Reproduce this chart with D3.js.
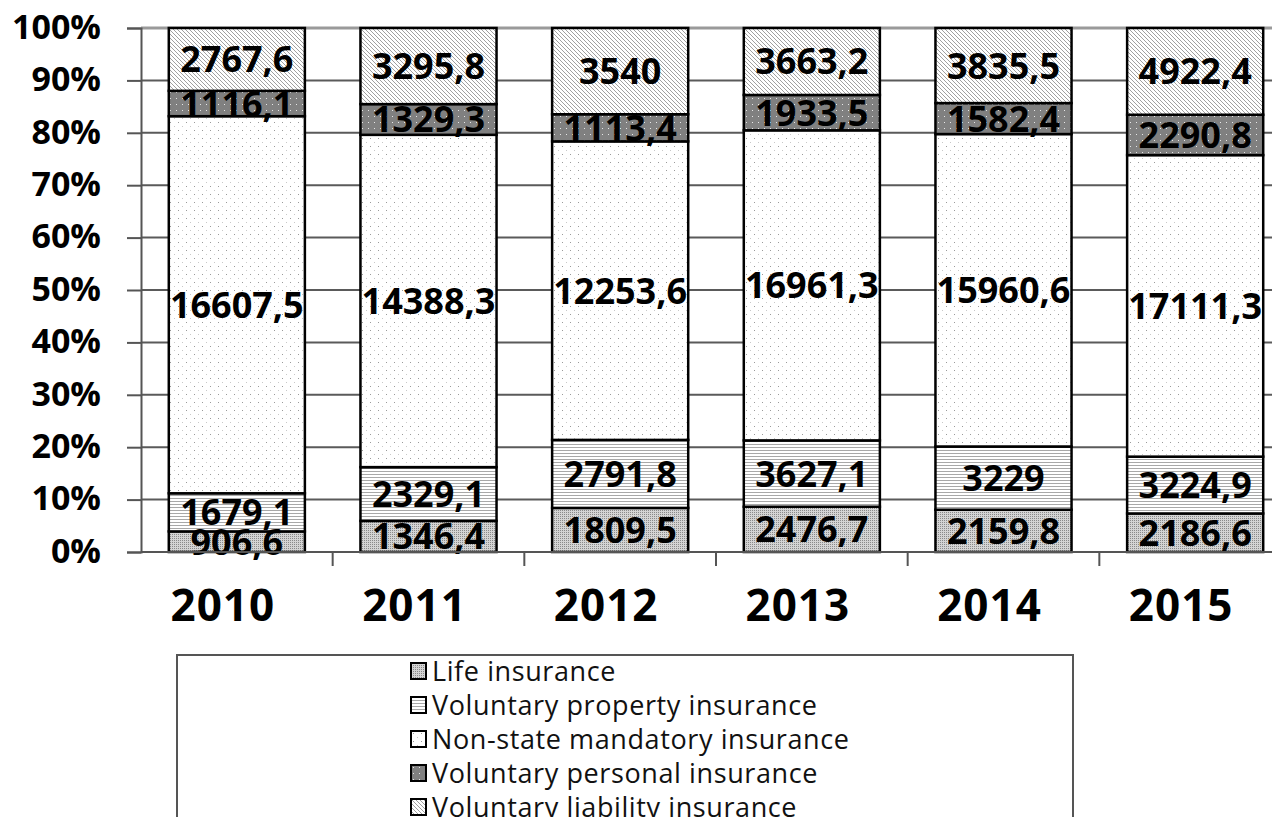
<!DOCTYPE html>
<html>
<head>
<meta charset="utf-8">
<script src="https://cdn.jsdelivr.net/npm/d3@7"></script>
<style>
  html, body { margin: 0; padding: 0; background: #fff; }
  svg { display: block; }
</style>
</head>
<body>
<svg class="insurance-chart" width="1272" height="817"></svg>
<script>
// data
var years = ['2010', '2011', '2012', '2013', '2014', '2015'];
var seriesNames = [
  'Life insurance',
  'Voluntary property insurance',
  'Non-state mandatory insurance',
  'Voluntary personal insurance',
  'Voluntary liability insurance'
];
var lifeInsurance = [906.6, 1346.4, 1809.5, 2476.7, 2159.8, 2186.6];
var propertyInsurance = [1679.1, 2329.1, 2791.8, 3627.1, 3229, 3224.9];
var mandatoryInsurance = [16607.5, 14388.3, 12253.6, 16961.3, 15960.6, 17111.3];
var personalInsurance = [1116.1, 1329.3, 1113.4, 1933.5, 1582.4, 2290.8];
var liabilityInsurance = [2767.6, 3295.8, 3540, 3663.2, 3835.5, 4922.4];
var yTicks = [0, 0.1, 0.2, 0.3, 0.4, 0.5, 0.6, 0.7, 0.8, 0.9, 1];

(function InsuranceChart() {

  'use strict';

  // vars
  var _svg = d3.select('.insurance-chart'),
    _left = 141,
    _right = 1291,
    _top = 28,
    _bottom = 552,
    _labelFont = '"Open Sans", "Liberation Sans", sans-serif';

  var seriesValues = [lifeInsurance, propertyInsurance, mandatoryInsurance, personalInsurance, liabilityInsurance];
  var patternIds = ['p-life', 'p-property', 'p-mandatory', 'p-personal', 'p-liability'];

  var rows = years.map(function toRow(year, i) {
    var row = { year: year };
    seriesNames.forEach(function addValue(name, s) { row[name] = seriesValues[s][i]; });
    return row;
  });

  var x = d3.scaleBand().domain(years).range([_left, _right]).paddingInner(0.29).paddingOuter(0.145);
  var y = d3.scaleLinear().domain([0, 1]).range([_bottom, _top]);

  var stacked = d3.stack().keys(seriesNames).offset(d3.stackOffsetExpand)(rows);

  makePatterns();
  drawGrid();
  drawBars();
  drawAxes();
  drawLegend();

  function makePatterns() {
    var defs = _svg.append('defs');

    // life: fine grey stipple
    var p = defs.append('pattern').attr('id', 'p-life').attr('patternUnits', 'userSpaceOnUse')
      .attr('width', 2).attr('height', 2);
    p.append('rect').attr('width', 2).attr('height', 2).attr('fill', '#d4d4d4');
    p.append('rect').attr('width', 1).attr('height', 1).attr('fill', '#8a8a8a');

    // property: horizontal lines
    p = defs.append('pattern').attr('id', 'p-property').attr('patternUnits', 'userSpaceOnUse')
      .attr('width', 4).attr('height', 3);
    p.append('rect').attr('width', 4).attr('height', 3).attr('fill', '#fff');
    p.append('rect').attr('width', 4).attr('height', 1).attr('fill', '#a8a8a8');

    // mandatory: sparse dots
    p = defs.append('pattern').attr('id', 'p-mandatory').attr('patternUnits', 'userSpaceOnUse')
      .attr('width', 8).attr('height', 8);
    p.append('rect').attr('width', 8).attr('height', 8).attr('fill', '#fff');
    p.append('rect').attr('x', 2).attr('y', 2).attr('width', 1).attr('height', 1).attr('fill', '#9a9a9a');
    p.append('rect').attr('x', 6).attr('y', 6).attr('width', 1).attr('height', 1).attr('fill', '#c8c8c8');

    // personal: dark grey with white dots
    p = defs.append('pattern').attr('id', 'p-personal').attr('patternUnits', 'userSpaceOnUse')
      .attr('width', 6).attr('height', 6);
    p.append('rect').attr('width', 6).attr('height', 6).attr('fill', '#808080');
    p.append('rect').attr('x', 2).attr('y', 2).attr('width', 1).attr('height', 1).attr('fill', '#e8e8e8');

    // liability: diagonal hatching
    p = defs.append('pattern').attr('id', 'p-liability').attr('patternUnits', 'userSpaceOnUse')
      .attr('width', 4).attr('height', 4);
    p.append('rect').attr('width', 4).attr('height', 4).attr('fill', '#fff');
    p.append('path').attr('d', 'M-1,-1 L5,5 M-1,3 L1,5 M3,-1 L5,1')
      .attr('stroke', '#a0a0a0').attr('stroke-width', 1);
  }

  function drawGrid() {
    _svg.append('g').selectAll('line')
      .data(yTicks.filter(function notZero(t) { return t > 0; }))
      .enter().append('line')
      .attr('x1', _left).attr('x2', 1272)
      .attr('y1', function (d) { return y(d); })
      .attr('y2', function (d) { return y(d); })
      .attr('stroke', function (d) { return d === 1 ? '#9a9a9a' : '#5a5a5a'; })
      .attr('stroke-width', function (d) { return d === 1 ? 3 : 2; });
  }

  function drawBars() {
    var groups = _svg.append('g').selectAll('g')
      .data(stacked)
      .enter().append('g')
      .attr('fill', function (d, i) { return 'url(#' + patternIds[i] + ')'; });

    groups.selectAll('rect')
      .data(function (d) { return d; })
      .enter().append('rect')
      .attr('x', function (d) { return x(d.data.year); })
      .attr('width', x.bandwidth())
      .attr('y', function (d) { return y(d[1]); })
      .attr('height', function (d) { return y(d[0]) - y(d[1]); })
      .attr('stroke', '#000')
      .attr('stroke-width', 2.5);

    // value labels
    var labels = _svg.append('g')
      .attr('font-family', _labelFont)
      .attr('font-weight', 'bold')
      .attr('font-size', 36)
      .attr('text-anchor', 'middle');

    stacked.forEach(function addLabels(layer) {
      labels.selectAll(null)
        .data(layer)
        .enter().append('text')
        .attr('x', function (d) { return x(d.data.year) + x.bandwidth() / 2; })
        .attr('y', function (d) { return y((d[0] + d[1]) / 2) + 13; })
        .text(function (d) { return String(d.data[layer.key]).replace('.', ','); });
    });
  }

  function drawAxes() {
    // y axis
    var yAxis = d3.axisLeft(y).tickValues(yTicks).tickSize(14)
      .tickFormat(function (d) { return Math.round(d * 100) + '%'; });
    var gy = _svg.append('g').attr('transform', 'translate(' + _left + ',0)').call(yAxis);
    gy.select('.domain').attr('stroke', '#555').attr('stroke-width', 2);
    gy.selectAll('.tick line').attr('stroke', '#555').attr('stroke-width', 2);
    gy.selectAll('.tick text')
      .attr('x', -40).attr('dy', '0.3em')
      .attr('font-family', _labelFont).attr('font-weight', 'bold')
      .attr('font-size', 34).attr('fill', '#000');

    // x axis line and category ticks
    _svg.append('line')
      .attr('x1', _left).attr('x2', 1272)
      .attr('y1', _bottom).attr('y2', _bottom)
      .attr('stroke', '#555').attr('stroke-width', 2);

    var step = x.step();
    _svg.append('g').selectAll('line')
      .data(years.slice(1))
      .enter().append('line')
      .attr('x1', function (d) { return x(d) - (step - x.bandwidth()) / 2; })
      .attr('x2', function (d) { return x(d) - (step - x.bandwidth()) / 2; })
      .attr('y1', _bottom).attr('y2', _bottom + 14)
      .attr('stroke', '#555').attr('stroke-width', 2);

    _svg.append('g').selectAll('text')
      .data(years)
      .enter().append('text')
      .attr('x', function (d) { return x(d) + x.bandwidth() / 2 - 14; })
      .attr('y', 621)
      .attr('text-anchor', 'middle')
      .attr('font-family', _labelFont).attr('font-weight', 'bold')
      .attr('font-size', 44)
      .attr('letter-spacing', 1)
      .text(function (d) { return d; });
  }

  function drawLegend() {
    var legend = _svg.append('g');

    legend.append('rect')
      .attr('x', 177).attr('y', 655)
      .attr('width', 896).attr('height', 200)
      .attr('fill', '#fff').attr('stroke', '#555').attr('stroke-width', 2);

    var items = legend.selectAll('g.item')
      .data(seriesNames)
      .enter().append('g')
      .attr('class', 'item')
      .attr('transform', function (d, i) { return 'translate(411,' + (663 + i * 34) + ')'; });

    items.append('rect')
      .attr('width', 15).attr('height', 16)
      .attr('fill', function (d, i) { return 'url(#' + patternIds[i] + ')'; })
      .attr('stroke', '#000').attr('stroke-width', 2);

    items.append('text')
      .attr('x', 21).attr('y', 18)
      .attr('font-family', _labelFont)
      .attr('font-size', 27)
      .attr('letter-spacing', 0.6)
      .attr('fill', '#111')
      .text(function (d) { return d; });
  }

})();
</script>
</body>
</html>
